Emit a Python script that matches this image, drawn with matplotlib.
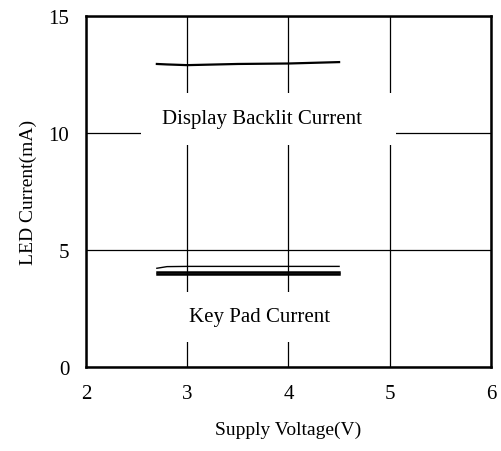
import matplotlib
matplotlib.use('Agg')
import matplotlib.pyplot as plt
from matplotlib.patches import Rectangle

plt.rcParams['font.family'] = ['Liberation Serif', 'DejaVu Serif']

# supply voltage (V)
volts = [2.7, 2.8, 3.0, 3.5, 4.0, 4.5]
# LED current (mA)
backlit = [12.95, 12.93, 12.9, 12.95, 12.97, 13.03]
keypad_a = [4.22, 4.29, 4.3, 4.3, 4.3, 4.3]
keypad_b = [4.08, 4.08, 4.08, 4.08, 4.08, 4.08]
keypad_c = [3.98, 3.98, 3.98, 3.98, 3.98, 3.98]

x_ticks = [2, 3, 4, 5, 6]
y_ticks = [0, 5, 10, 15]

fig = plt.figure(figsize=(5.02, 4.52), dpi=100)
ax = fig.add_axes([0.1713, 0.1858, 0.8067, 0.7766])

ax.set_xlim(2, 6)
ax.set_ylim(0, 15)
ax.set_xticks(x_ticks)
ax.set_yticks(y_ticks)
ax.tick_params(length=0, labelsize=15)
ax.tick_params(axis='x', pad=12)
ax.tick_params(axis='y', pad=12)
ax.set_axisbelow(True)
ax.grid(True, color='black', linewidth=0.9)
for s in ax.spines.values():
    s.set_linewidth(1.8)

# white patches behind the labels hide the grid
ax.add_patch(Rectangle((2.54, 9.5), 2.52, 2.2, facecolor='white', edgecolor='none', zorder=1))
ax.add_patch(Rectangle((2.9, 1.05), 1.7, 2.15, facecolor='white', edgecolor='none', zorder=1))

ax.plot(volts, backlit, color='black', linewidth=1.6, zorder=3)
ax.plot(volts, keypad_a, color='black', linewidth=1.0, zorder=3)
ax.plot(volts, keypad_b, color='black', linewidth=1.8, zorder=3)
ax.plot(volts, keypad_c, color='black', linewidth=1.8, zorder=3)

ax.text(3.74, 10.6, 'Display Backlit Current', ha='center', va='center', fontsize=15, zorder=4)
ax.text(3.71, 2.18, 'Key Pad Current', ha='center', va='center', fontsize=15, zorder=4)

ax.set_xlabel('Supply Voltage(V)', fontsize=14, labelpad=13)
ax.set_ylabel('LED Current(mA)', fontsize=14, labelpad=8)

fig.savefig('out.png', dpi=100)
